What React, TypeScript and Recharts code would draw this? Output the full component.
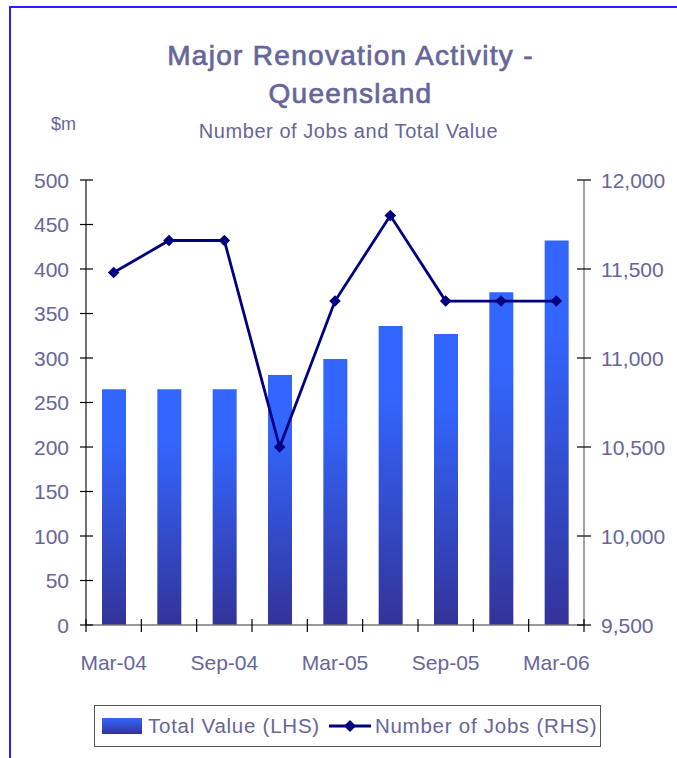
import React from 'react'
import { ComposedChart, Bar, Line, XAxis, YAxis } from 'recharts'

// quarterly data, Queensland major renovations
const quarters = ['Mar-04', 'Jun-04', 'Sep-04', 'Dec-04', 'Mar-05', 'Jun-05', 'Sep-05', 'Dec-05', 'Mar-06']
const totalValue = [265, 265, 265, 281, 299, 336, 327, 374, 432] // $m, LHS
const numberOfJobs = [11480, 11660, 11660, 10500, 11320, 11800, 11320, 11320, 11320] // RHS

const leftTicks = [0, 50, 100, 150, 200, 250, 300, 350, 400, 450, 500]
const rightTicks = [9500, 10000, 10500, 11000, 11500, 12000]

const TEXT = '#666699'
const NAVY = '#000080'
const FONT = "'Liberation Sans', Arial, sans-serif"

const data = quarters.map((q, i) => ({ q, value: totalValue[i], jobs: numberOfJobs[i] }))

function Diamond(props: any) {
  const { cx, cy } = props
  if (cx == null || cy == null) return null
  const r = 5.8
  return <polygon points={`${cx},${cy - r} ${cx + r},${cy} ${cx},${cy + r} ${cx - r},${cy}`} fill={NAVY} />
}

function LeftTick(props: any) {
  const { x, y, payload } = props
  const ax = x + 17
  return (
    <g>
      <line x1={ax - 6} x2={ax + 7} y1={y} y2={y} stroke="#000" strokeWidth={1.2} />
      <text x={x} y={y} dy="0.36em" textAnchor="end" fill={TEXT} fontSize={21} fontFamily={FONT}>
        {payload.value}
      </text>
    </g>
  )
}

function RightTick(props: any) {
  const { x, y, payload } = props
  const ax = x - 17
  return (
    <g>
      <line x1={ax - 7} x2={ax + 7} y1={y} y2={y} stroke="#000" strokeWidth={1.2} />
      <text x={x} y={y} dy="0.36em" textAnchor="start" fill={TEXT} fontSize={21} fontFamily={FONT}>
        {Number(payload.value).toLocaleString('en-US')}
      </text>
    </g>
  )
}

function BottomTick(props: any) {
  const { x, y, payload, index, visibleTicksCount, width } = props
  const half = payload.offset || width / visibleTicksCount / 2
  const last = index === visibleTicksCount - 1
  return (
    <g>
      <line x1={x - half} x2={x - half} y1={y - 6} y2={y + 7} stroke="#000" strokeWidth={1.2} />
      {last && <line x1={x + half} x2={x + half} y1={y - 6} y2={y + 7} stroke="#000" strokeWidth={1.2} />}
      {index % 2 === 0 && (
        <text x={x} y={y + 45} textAnchor="middle" fill={TEXT} fontSize={21} fontFamily={FONT}>
          {payload.value}
        </text>
      )}
    </g>
  )
}

export default function App() {
  return (
    <div style={{ position: 'absolute', left: 0, top: 0, width: 677, height: 758, background: '#fff', overflow: 'hidden', fontFamily: FONT }}>
      {/* frame edge */}
      <div style={{ position: 'absolute', left: 9, top: 6, width: 700, height: 800, borderTop: '2px solid #2222ff', borderLeft: '2px solid #2222ff' }} />

      <div style={{ position: 'absolute', left: 0, width: 701, top: 37, textAlign: 'center', color: TEXT, fontSize: 28, letterSpacing: 1.3, lineHeight: '38px', WebkitTextStroke: `0.7px ${TEXT}` }}>
        Major Renovation Activity -<br />Queensland
      </div>
      <div style={{ position: 'absolute', left: 0, width: 697, top: 120, textAlign: 'center', color: TEXT, fontSize: 20, letterSpacing: 0.55 }}>
        Number of Jobs and Total Value
      </div>
      <div style={{ position: 'absolute', left: 51, top: 114, color: TEXT, fontSize: 18 }}>$m</div>

      <div style={{ position: 'absolute', left: 0, top: 0 }}>
        <ComposedChart width={677} height={758} data={data} margin={{ top: 180, right: 13, bottom: 93, left: 26 }}>
          <defs>
            <linearGradient id="barGrad" x1="0" y1="0" x2="0" y2="1">
              <stop offset="0%" stopColor="#3366ff" />
              <stop offset="22%" stopColor="#3366ff" />
              <stop offset="100%" stopColor="#333399" />
            </linearGradient>
          </defs>
          <XAxis
            dataKey="q"
            interval={0}
            tickSize={0}
            tickMargin={0}
            height={40}
            axisLine={{ stroke: '#777', strokeWidth: 1.5 }}
            tick={<BottomTick />}
          />
          <YAxis
            yAxisId="left"
            domain={[0, 500]}
            ticks={leftTicks}
            width={60}
            tickSize={0}
            tickMargin={17}
            axisLine={{ stroke: '#444', strokeWidth: 1.5 }}
            tick={<LeftTick />}
          />
          <YAxis
            yAxisId="right"
            orientation="right"
            domain={[9500, 12000]}
            ticks={rightTicks}
            width={80}
            tickSize={0}
            tickMargin={17}
            axisLine={{ stroke: '#888', strokeWidth: 1.5 }}
            tick={<RightTick />}
          />
          <Bar yAxisId="left" dataKey="value" barSize={24} fill="url(#barGrad)" isAnimationActive={false} />
          <Line
            yAxisId="right"
            type="linear"
            dataKey="jobs"
            stroke={NAVY}
            strokeWidth={2.8}
            dot={<Diamond />}
            activeDot={false}
            isAnimationActive={false}
          />
        </ComposedChart>
      </div>

      {/* legend */}
      <div style={{ position: 'absolute', left: 94, top: 705, width: 507, height: 42, border: '1px solid #555', boxSizing: 'border-box', display: 'flex', alignItems: 'center', color: TEXT, fontSize: 20.5, letterSpacing: 0.75 }}>
        <div style={{ width: 40, height: 16, marginLeft: 7, marginRight: 6, background: 'linear-gradient(#3366ff, #333399)' }} />
        <span>Total Value (LHS)</span>
        <svg width={44} height={16} style={{ marginLeft: 8, marginRight: 3 }}>
          <line x1={1} x2={43} y1={8} y2={8} stroke={NAVY} strokeWidth={2.8} />
          <polygon points="22,2 28,8 22,14 16,8" fill={NAVY} />
        </svg>
        <span>Number of Jobs (RHS)</span>
      </div>
    </div>
  )
}
